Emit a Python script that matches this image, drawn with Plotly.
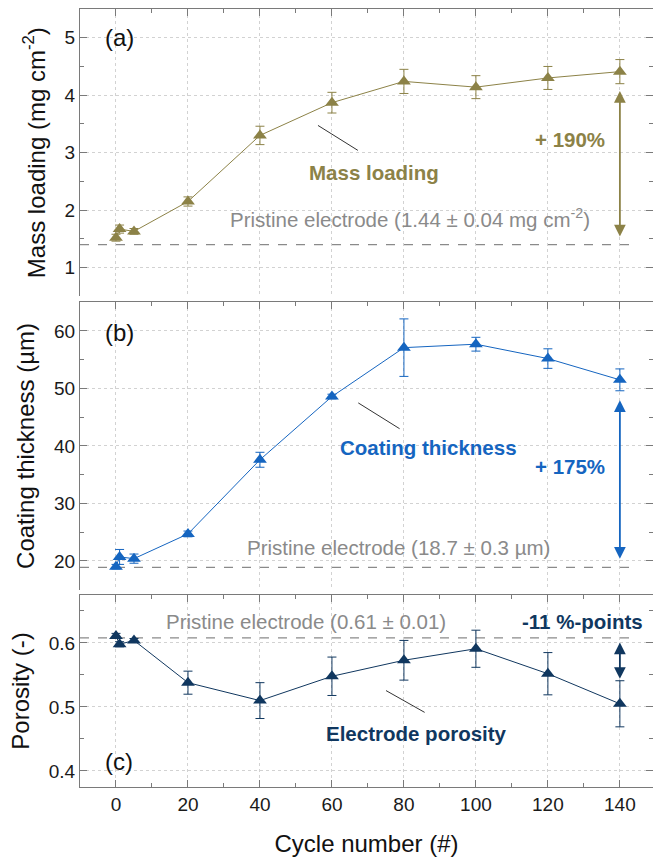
import plotly.graph_objects as go

# ---- data ----
cycles = [0, 1, 5, 20, 40, 60, 80, 100, 120, 140]
mass_loading = [1.52, 1.67, 1.63, 2.15, 3.30, 3.87, 4.24, 4.14, 4.30, 4.41]
mass_err = [0.06, 0.07, 0.05, 0.08, 0.16, 0.18, 0.21, 0.20, 0.20, 0.21]
thickness = [19.0, 20.7, 20.4, 24.7, 37.6, 48.6, 57.1, 57.7, 55.2, 51.5]
thickness_err = [0.4, 1.3, 0.8, 0.5, 1.3, 0.4, 5.0, 1.2, 1.7, 1.9]
porosity = [0.611, 0.598, 0.604, 0.538, 0.510, 0.548, 0.573, 0.591, 0.552, 0.505]
porosity_err = [0.004, 0.004, 0.003, 0.018, 0.028, 0.030, 0.031, 0.029, 0.033, 0.036]

pristine_mass = 1.40
pristine_thick = 18.9
pristine_poro = 0.608

arrow_mass = (4.10, 1.54)
arrow_thick = (48.2, 20.4)
arrow_poro = (0.603, 0.544)

OLIVE = "#8c8247"
BLUE = "#1565c0"
NAVY = "#10375f"
GRAY = "#8a8a8a"
AXC = "#7a7a7a"
FONT = "Liberation Sans, Arial, sans-serif"

XR = [-10, 149.2]

fig = go.Figure()

def add_series(x, y, err, color, xa, ya):
    fig.add_trace(go.Scatter(
        x=x, y=y, xaxis=xa, yaxis=ya, mode="lines+markers",
        line=dict(color=color, width=1),
        marker=dict(symbol="triangle-up", size=12, color=color),
        error_y=dict(type="data", array=err, color=color, thickness=1, width=4.5),
        showlegend=False, hoverinfo="skip"))

def add_dash(val, xa, ya):
    fig.add_trace(go.Scatter(
        x=[XR[0], 145], y=[val, val], xaxis=xa, yaxis=ya, mode="lines",
        line=dict(color=GRAY, width=1.3, dash="dash"),
        showlegend=False, hoverinfo="skip"))

add_dash(pristine_mass, "x", "y")
add_dash(pristine_thick, "x2", "y2")
add_dash(pristine_poro, "x3", "y3")
add_series(cycles, mass_loading, mass_err, OLIVE, "x", "y")
add_series(cycles, thickness, thickness_err, BLUE, "x2", "y2")
add_series(cycles, porosity, porosity_err, NAVY, "x3", "y3")

grid = dict(showgrid=True, gridcolor="#d2d2d2", griddash="dot", gridwidth=1)
common_x = dict(range=XR, tick0=0, dtick=20, ticks="inside", ticklen=7,
                tickcolor=AXC, showline=True, linecolor=AXC, linewidth=1.3,
                zeroline=False,
                minor=dict(ticks="inside", dtick=10, ticklen=4, tickcolor=AXC, showgrid=False),
                **grid)
common_y = dict(ticks="inside", ticklen=7, tickcolor=AXC, showline=True,
                linecolor=AXC, linewidth=1.3, mirror="ticks", zeroline=False,
                tickfont=dict(size=19, color="#1a1a1a"),
                title_font=dict(size=24, color="#111"),
                **grid)

dom_c = [0, 0.2468]
dom_b = [0.2536, 0.6231]
dom_a = [0.6307, 1.0]

fig.update_layout(
    width=653, height=857,
    margin=dict(l=80, r=0, t=9, b=70),
    paper_bgcolor="white", plot_bgcolor="white",
    font=dict(family=FONT, color="#111"),
    showlegend=False,
    xaxis=dict(anchor="y", side="top", showticklabels=False, **common_x),
    xaxis2=dict(anchor="y2", side="top", showticklabels=False, **common_x),
    xaxis3=dict(anchor="y3", side="bottom", mirror="ticks",
                tickfont=dict(size=19, color="#1a1a1a"),
                title=dict(text="Cycle number (#)", font=dict(size=24, color="#111"), standoff=22),
                **common_x),
    yaxis=dict(domain=dom_a, anchor="x", range=[0.5, 5.5], dtick=1, tick0=0,
               minor=dict(ticks="inside", dtick=0.5, ticklen=4, tickcolor=AXC, showgrid=False),
               title=dict(text="Mass loading (mg cm<sup>-2</sup>)", standoff=12), **common_y),
    yaxis2=dict(domain=dom_b, anchor="x2", range=[15, 65], dtick=10, tick0=0,
                minor=dict(ticks="inside", dtick=5, ticklen=4, tickcolor=AXC, showgrid=False),
                title=dict(text="Coating thickness (µm)", standoff=12), **common_y),
    yaxis3=dict(domain=dom_c, anchor="x3", range=[0.375, 0.675], dtick=0.1, tick0=0,
                tickformat=".1f",
                minor=dict(ticks="inside", dtick=0.05, ticklen=4, tickcolor=AXC, showgrid=False),
                title=dict(text="Porosity (-)", standoff=12), **common_y),
)

ann = []

def text(x, y, s, xr, yr, color, size=20.5, bold=False, xanchor="center"):
    ann.append(dict(x=x, y=y, xref=xr, yref=yr, text=(f"<b>{s}</b>" if bold else s),
                    showarrow=False, xanchor=xanchor, yanchor="middle",
                    font=dict(size=size, color=color, family=FONT)))

def leader(x0, y0, x1, y1, xr, yr):
    ann.append(dict(x=x1, y=y1, ax=x0, ay=y0, xref=xr, yref=yr, axref=xr, ayref=yr,
                    text="", showarrow=True, arrowhead=0, arrowwidth=1, arrowcolor="#333"))

def darrow(x, top, bottom, xr, yr, color):
    ann.append(dict(x=x, y=bottom, ax=x, ay=top, xref=xr, yref=yr, axref=xr, ayref=yr,
                    text="", showarrow=True, arrowhead=2, startarrowhead=2,
                    arrowside="end+start", arrowsize=1.3, startarrowsize=1.3,
                    arrowwidth=1.8, arrowcolor=color, standoff=0, startstandoff=0))

# panel a
text(-3.7, 5.0, "(a)", "x", "y", "#111", size=24, xanchor="left")
text(71.6, 2.65, "Mass loading", "x", "y", OLIVE, bold=True)
text(126, 3.23, "+ 190%", "x", "y", OLIVE, bold=True)
text(31.2, 1.87, "Pristine electrode (1.44 ± 0.04 mg cm<sup>-2</sup>)", "x", "y", GRAY, xanchor="left")
leader(55.7, 3.49, 67.2, 3.04, "x", "y")
darrow(140, arrow_mass[0], arrow_mass[1], "x", "y", OLIVE)

# panel b
text(-3.7, 59.8, "(b)", "x2", "y2", "#111", size=24, xanchor="left")
text(86.8, 39.8, "Coating thickness", "x2", "y2", BLUE, bold=True)
text(126, 36.4, "+ 175%", "x2", "y2", BLUE, bold=True)
text(35.75, 22.4, "Pristine electrode (18.7 ± 0.3 µm)", "x2", "y2", GRAY, xanchor="left")
leader(66.9, 47.65, 78.8, 43.0, "x2", "y2")
darrow(140, arrow_thick[0], arrow_thick[1], "x2", "y2", BLUE)

# panel c
text(-3.7, 0.415, "(c)", "x3", "y3", "#111", size=24, xanchor="left")
text(83.4, 0.459, "Electrode porosity", "x3", "y3", NAVY, bold=True)
text(129.6, 0.634, "-11 %-points", "x3", "y3", NAVY, bold=True)
text(13.3, 0.634, "Pristine electrode (0.61 ± 0.01)", "x3", "y3", GRAY, xanchor="left")
leader(74.6, 0.527, 85.75, 0.4916, "x3", "y3")
darrow(140, arrow_poro[0], arrow_poro[1], "x3", "y3", NAVY)

fig.update_layout(annotations=ann)
fig.write_html("out.html")
